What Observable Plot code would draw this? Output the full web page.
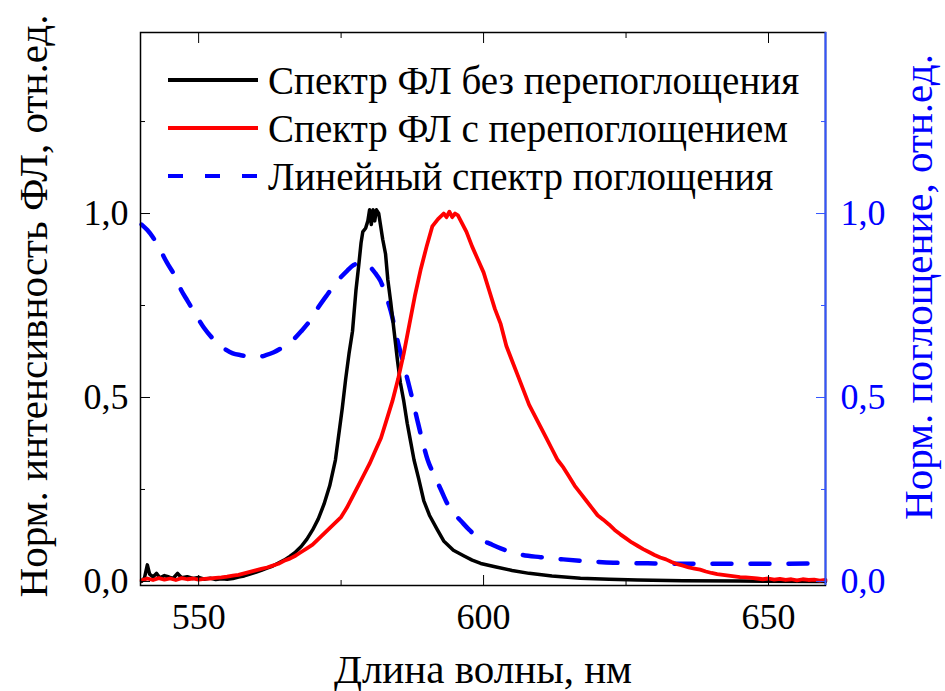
<!DOCTYPE html>
<html>
<head>
<meta charset="utf-8">
<script src="https://cdn.jsdelivr.net/npm/d3@7"></script>
<script src="https://cdn.jsdelivr.net/npm/@observablehq/plot@0.6"></script>
<style>
  html, body { margin: 0; padding: 0; background: white; }
  #wrap { position: relative; width: 945px; height: 691px; font-family: "Liberation Serif", "Times New Roman", serif; }
  #legend { position: absolute; left: 168px; top: 56px; }
  .item { display: flex; align-items: center; height: 48px; font-size: 39px; color: #000; white-space: nowrap; }
  .item svg { margin-right: 10px; }
</style>
</head>
<body>
<div id="wrap"></div>
<script>
// ---- Data ----
const seriesNames = ["Спектр ФЛ без перепоглощения", "Спектр ФЛ с перепоглощением", "Линейный спектр поглощения"];

// Black: PL spectrum without reabsorption (nm, norm. intensity)
const plNoReabsNm = [540,540.5,541,541.4,542,542.6,543.2,544,544.8,545.5,546.3,547,548,549,550,551,552,553,554,555,556,557,558,559,560,561,562,563,564,565,566,567,568,569,570,571,572,573,574,574.6,575.2,575.8,576.4,577,577.6,578.1,578.5,578.8,579.3,579.7,580,580.3,580.6,580.9,581.2,581.6,581.9,582.3,582.8,583.2,583.7,584.3,584.9,585.4,586,586.6,587.2,587.8,588.6,589.5,590.5,591.9,593,594.7,596.5,598,599.5,602,605,608,612,617,622,627,635,645,660];
const plNoReabsVal = [0.0,0.01,0.045,0.02,0.012,0.022,0.01,0.016,0.012,0.008,0.022,0.01,0.013,0.008,0.011,0.006,0.009,0.005,0.007,0.006,0.008,0.012,0.015,0.02,0.025,0.03,0.036,0.042,0.05,0.058,0.068,0.08,0.095,0.115,0.14,0.17,0.21,0.26,0.33,0.40,0.47,0.55,0.62,0.68,0.79,0.86,0.92,0.95,0.96,0.98,1.01,0.97,1.01,0.98,1.01,1.0,0.97,0.93,0.89,0.82,0.76,0.68,0.60,0.54,0.49,0.43,0.38,0.33,0.28,0.22,0.18,0.14,0.11,0.085,0.07,0.058,0.049,0.04,0.03,0.022,0.015,0.009,0.006,0.004,0.002,0.001,0.0];

// Red: PL spectrum with reabsorption
const plReabsNm = [540,541,542,543,544,545,546,547,548,549,550,551,552,553,554,555,556,557,558,559,560,561,562,563,564,565,566,567,568,569,570,571,572,573,574,575,576,577,578,579,580,581,582,583,584,585,586,587,588,589,590,591,592,593,593.5,594,594.5,595,595.5,596,597,598,599,600,601,602,603,604,605,606,607,608,609,610,611,612,613,614,615,616,617,618,619,620,621,622,623,624,625,626,627,628,629,630,631,632,633,634,635,636,637,638,639,640,641,642,643,644,645,646,647,648,649,650,651,652,653,654,655,656,657,658,659,660];
const plReabsVal = [0.003,0.008,0.004,0.009,0.005,0.008,0.004,0.009,0.006,0.008,0.005,0.007,0.008,0.01,0.011,0.013,0.016,0.018,0.022,0.026,0.03,0.034,0.038,0.043,0.048,0.056,0.062,0.07,0.08,0.09,0.10,0.115,0.13,0.145,0.16,0.175,0.2,0.23,0.26,0.29,0.32,0.355,0.39,0.44,0.49,0.55,0.62,0.70,0.78,0.85,0.91,0.965,0.985,1.0,0.99,1.005,0.99,1.0,0.995,0.98,0.95,0.91,0.875,0.84,0.79,0.74,0.70,0.64,0.6,0.56,0.52,0.48,0.45,0.42,0.39,0.36,0.33,0.31,0.285,0.26,0.24,0.22,0.2,0.18,0.168,0.155,0.14,0.128,0.117,0.106,0.097,0.088,0.08,0.072,0.065,0.06,0.053,0.047,0.043,0.038,0.035,0.032,0.027,0.023,0.02,0.018,0.016,0.014,0.012,0.011,0.01,0.008,0.006,0.008,0.005,0.007,0.004,0.006,0.003,0.006,0.004,0.005,0.002,0.004];

// Blue dashed: linear absorption spectrum
const absNm = [540,541,542,543.3,544.5,545.6,547,548,549.5,550.9,552.5,554.4,556,557.4,559,560.3,561.8,563.2,564.6,566.1,568,569.6,571,572.6,574.3,576.1,577.2,577.9,579,580.2,581,581.9,582.8,583.7,584.9,585.8,586.7,587.6,588.4,589.3,590.2,591.3,592.5,593.7,594.8,596,597.5,599.5,601.2,603,606.5,610,614,618,622.8,630,640,650,660];
const absVal = [0.97,0.955,0.935,0.90,0.865,0.837,0.79,0.764,0.725,0.69,0.66,0.634,0.62,0.615,0.611,0.61,0.615,0.623,0.635,0.65,0.68,0.71,0.745,0.78,0.815,0.845,0.86,0.864,0.862,0.853,0.838,0.817,0.78,0.736,0.655,0.6,0.546,0.49,0.437,0.38,0.33,0.29,0.25,0.21,0.185,0.165,0.14,0.114,0.102,0.09,0.073,0.066,0.06,0.055,0.051,0.049,0.048,0.048,0.049];

// Tick values / labels
const xMajorTicks = [550, 600, 650];
const xMinorTicks = [575, 625];
const yMajorTicks = [0, 0.5, 1.0];
const yMinorTicks = [0.25, 0.75, 1.25];
const xTitle = "Длина волны, нм";
const yLeftTitle = "Норм. интенсивность ФЛ, отн.ед.";
const yRightTitle = "Норм. поглощение, отн.ед.";

// ---- Build tables ----
const black = plNoReabsNm.map((x, i) => ({x, y: plNoReabsVal[i]}));
const red = plReabsNm.map((x, i) => ({x, y: plReabsVal[i]}));
const blue = absNm.map((x, i) => ({x, y: absVal[i]}));

const fmt = d => d3.format(".1f")(d).replace(".", ",");
const BLUE = "#0000ff";
const BLUE_AXIS = "#3355ff";
const xDomain = [539.8, 660];
const yDomain = [-0.011, 1.492];
const FONT = "'Liberation Serif', 'Times New Roman', serif";

const chart = Plot.plot({
  width: 945,
  height: 691,
  marginLeft: 140,
  marginRight: 120,
  marginTop: 32,
  marginBottom: 106,
  x: {domain: xDomain},
  y: {domain: yDomain},
  style: {fontFamily: FONT, fontSize: "36px", color: "#000", background: "white", overflow: "visible"},
  marks: [
    // curves
    Plot.line(blue, {x: "x", y: "y", stroke: BLUE, strokeWidth: 4.5, strokeDasharray: "19,19", curve: "monotone-x"}),
    Plot.line(black, {x: "x", y: "y", stroke: "#000", strokeWidth: 3.5}),
    Plot.line(red, {x: "x", y: "y", stroke: "#ff0000", strokeWidth: 3.8}),
    // frame
    Plot.frame({stroke: "#000", strokeWidth: 1.5}),
    Plot.ruleX([xDomain[1]], {y1: yDomain[0], y2: yDomain[1], stroke: BLUE_AXIS, strokeWidth: 2}),
    // bottom axis
    Plot.axisX(xMajorTicks, {anchor: "bottom", tickSize: -10, tickPadding: 28, tickFormat: d => String(d), label: null, fontSize: 36}),
    Plot.axisX(xMinorTicks, {anchor: "bottom", tickSize: -5, tickFormat: () => "", label: null}),
    // top axis (ticks only)
    Plot.axisX(xMajorTicks, {anchor: "top", tickSize: -10, tickFormat: () => "", label: null}),
    Plot.axisX(xMinorTicks, {anchor: "top", tickSize: -5, tickFormat: () => "", label: null}),
    // left axis
    Plot.axisY(yMajorTicks, {anchor: "left", tickSize: -10, tickPadding: 22, tickFormat: fmt, label: null, fontSize: 36}),
    Plot.axisY(yMinorTicks, {anchor: "left", tickSize: -5, tickFormat: () => "", label: null}),
    // right axis (blue)
    Plot.axisY(yMajorTicks, {anchor: "right", tickSize: -10, tickPadding: 25, tickFormat: fmt, stroke: BLUE_AXIS, fill: BLUE, label: null, fontSize: 36}),
    Plot.axisY(yMinorTicks, {anchor: "right", tickSize: -5, stroke: BLUE_AXIS, tickFormat: () => "", label: null}),
    // axis titles
    Plot.text([xTitle], {text: d => d, frameAnchor: "bottom", textAnchor: "middle", lineAnchor: "top", dy: 68, fontSize: 41, fill: "#000"}),
    Plot.text([yLeftTitle], {text: d => d, frameAnchor: "left", textAnchor: "middle", lineAnchor: "middle", rotate: -90, dx: -107, dy: -3, fontSize: 41, fill: "#000"}),
    Plot.text([yRightTitle], {text: d => d, frameAnchor: "right", textAnchor: "middle", lineAnchor: "middle", rotate: -90, dx: 93, dy: -22, fontSize: 41, fill: BLUE})
  ]
});

const wrap = document.getElementById("wrap");
wrap.appendChild(chart);

// Legend overlay
const legend = document.createElement("div");
legend.id = "legend";
const legendStyles = [
  {stroke: "#000", dash: null},
  {stroke: "#ff0000", dash: null},
  {stroke: BLUE, dash: "15,22"}
];
seriesNames.forEach((name, i) => {
  const item = document.createElement("div");
  item.className = "item";
  const s = legendStyles[i];
  item.innerHTML = `<svg width="90" height="10"><line x1="0" y1="5" x2="90" y2="5" stroke="${s.stroke}" stroke-width="4"${s.dash ? ` stroke-dasharray="${s.dash}"` : ""}/></svg><span>${name}</span>`;
  legend.appendChild(item);
});
wrap.appendChild(legend);
</script>
</body>
</html>
